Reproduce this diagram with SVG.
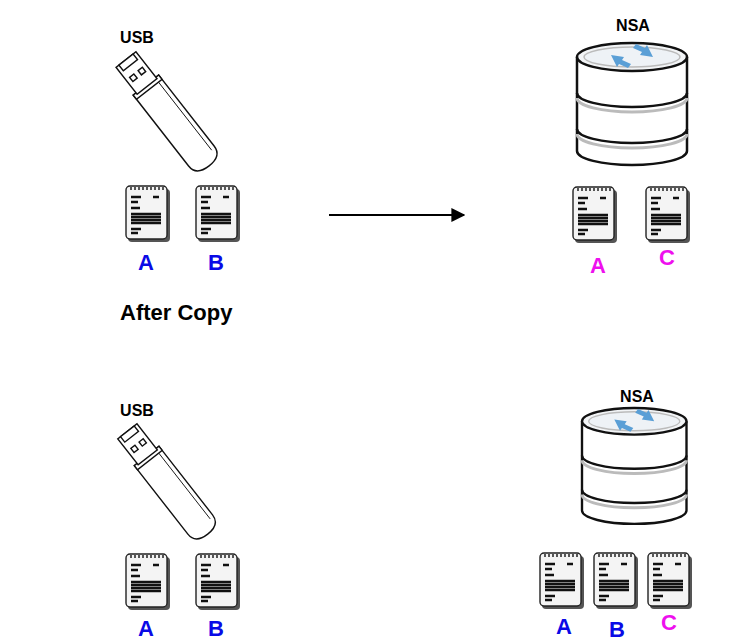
<svg xmlns="http://www.w3.org/2000/svg" width="739" height="643" viewBox="0 0 739 643">
<style>
.t{font-family:"Liberation Sans",Arial,sans-serif;font-weight:bold}
.lab{font-size:16px;text-anchor:middle}
.big{font-size:22px;text-anchor:middle}
.blue{fill:#0a0ae6}.mag{fill:#ee10ee}
.ln{stroke:#111;stroke-width:2.4}
.o{fill:#fff;stroke:#111;stroke-width:1.6}
</style>
<defs>
<marker id="ah" viewBox="0 0 10 10" refX="9" refY="5" markerWidth="7" markerHeight="7" orient="auto"><path d="M0,0L10,5L0,10z" fill="#000"/></marker>
<g id="doc">
<rect x="2" y="3" width="42" height="53" rx="4" fill="#555"/>
<rect x="0" y="0" width="41" height="53" rx="4" fill="#f4f4f4" stroke="#222" stroke-width="1.4"/>
<path d="M5,4V1M9,4V1M13,4V1M17,4V1M21,4V1M25,4V1M29,4V1M33,4V1M37,4V1" stroke="#222" stroke-width="1.5"/>
<path d="M5,11H15M5,16H12M27,11H33M5,22H14M5,28H35M5,31H35M5,34H35M5,37H35M5,43H15M5,47H12" class="ln" stroke-width="1.8"/>
</g>
<g id="usb">
<g transform="rotate(52)">
<path d="M-38,-18H62Q76,-18 76,0Q76,18 62,18H-38Z" class="o"/>
<path d="M-38,-13H64" stroke="#111" stroke-width="1"/>
<rect x="-38" y="-18" width="6" height="36" class="o"/>
<rect x="-74" y="-14" width="38" height="28" class="o"/>
<rect x="-74" y="-10" width="8" height="20" class="o"/>
<rect x="-56" y="-9" width="6" height="6" class="o"/>
<rect x="-56" y="3" width="6" height="6" class="o"/>
</g>
</g>
<g id="cyl">
<path d="M0,14V108A55,14 0 0 0 110,108V14" fill="#fff" stroke="#111" stroke-width="2.5"/>
<path d="M0,50A55,14 0 0 0 110,50M0,86A55,14 0 0 0 110,86" fill="none" stroke="#111" stroke-width="2.5"/>
<path d="M0,55A55,14 0 0 0 110,55M0,91A55,14 0 0 0 110,91" fill="none" stroke="#bbb" stroke-width="3"/>
<ellipse cx="55" cy="14" rx="55" ry="14" fill="#f2f4f6" stroke="#111" stroke-width="2.5"/>
<ellipse cx="55" cy="14" rx="48" ry="10" fill="#eef2f6" stroke="#bbb" stroke-width="1.5"/>
<path d="M34,12L47,14L45,17L54,21L51,25L42,21L40,24Z" fill="#5a9fd6"/>
<path d="M76,14L63,12L65,9L56,5L59,1L68,5L70,2Z" fill="#5a9fd6"/>
</g>
</defs>

<g id="top-usb">
<text class="t lab" x="137" y="43">USB</text>
<use href="#usb" transform="translate(167,112) scale(0.9)"/>
</g>
<g id="top-usb-files">
<use href="#doc" x="126" y="186"/><use href="#doc" x="196" y="186"/>
<text class="t big blue" x="146" y="270">A</text><text class="t big blue" x="216" y="270">B</text>
</g>
<g id="top-nsa">
<text class="t lab" x="633" y="31">NSA</text>
<use href="#cyl" transform="translate(577,43)"/>
</g>
<g id="top-nsa-files">
<use href="#doc" x="573" y="187"/><use href="#doc" x="646" y="187"/>
<text class="t big mag" x="598" y="273">A</text><text class="t big mag" x="667" y="265">C</text>
</g>
<g id="connectors">
<line x1="329" y1="215" x2="464" y2="215" stroke="#000" stroke-width="2" marker-end="url(#ah)"/>
</g>
<text class="t" x="120" y="320" font-size="22">After Copy</text>

<g id="bot-usb">
<text class="t lab" x="137" y="416">USB</text>
<use href="#usb" transform="translate(167,482) scale(0.87)"/>
</g>
<g id="bot-usb-files">
<use href="#doc" x="126" y="554"/><use href="#doc" x="196" y="554"/>
<text class="t big blue" x="146" y="636">A</text><text class="t big blue" x="216" y="636">B</text>
</g>
<g id="bot-nsa">
<text class="t lab" x="637" y="402">NSA</text>
<use href="#cyl" transform="translate(582,408) scale(0.95)"/>
</g>
<g id="bot-nsa-files">
<use href="#doc" x="540" y="553"/><use href="#doc" x="594" y="553"/><use href="#doc" x="648" y="553"/>
<text class="t big blue" x="564" y="634">A</text><text class="t big blue" x="617" y="637">B</text><text class="t big mag" x="669" y="630">C</text>
</g>
</svg>
